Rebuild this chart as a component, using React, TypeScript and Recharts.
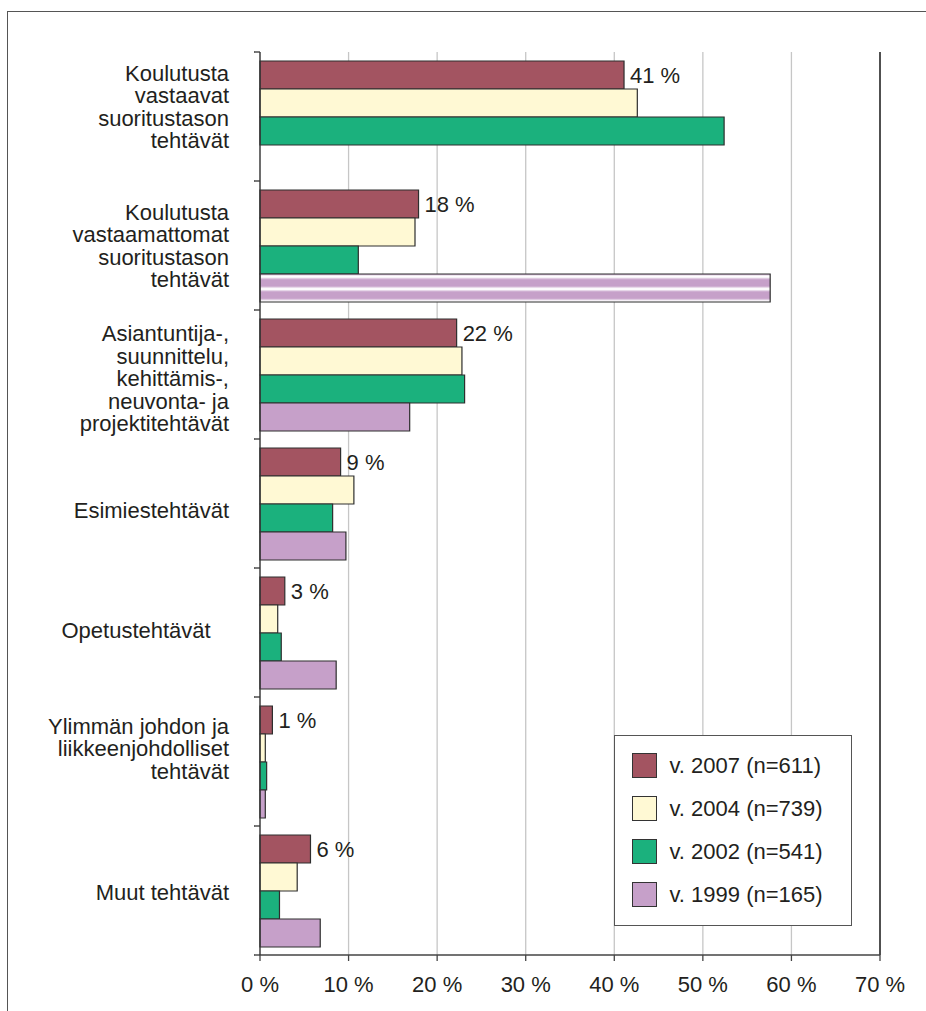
import React from 'react';
import {
  BarChart,
  Bar,
  XAxis,
  YAxis,
  CartesianGrid,
  ReferenceLine,
  LabelList,
  Legend,
  Cell,
} from 'recharts';

// ---- data ----
const categories: string[] = [
  'Koulutusta\nvastaavat\nsuoritustason\ntehtävät',
  'Koulutusta\nvastaamattomat\nsuoritustason\ntehtävät',
  'Asiantuntija-,\nsuunnittelu,\nkehittämis-,\nneuvonta- ja\nprojektitehtävät',
  'Esimiestehtävät',
  'Opetustehtävät\u00a0\u00a0\u00a0',
  'Ylimmän johdon ja\nliikkeenjohdolliset\ntehtävät',
  'Muut tehtävät',
];
const values2007: (number | null)[] = [41.1, 17.9, 22.2, 9.1, 2.8, 1.4, 5.7];
const values2004: (number | null)[] = [42.6, 17.5, 22.8, 10.6, 2.0, 0.6, 4.2];
const values2002: (number | null)[] = [52.4, 11.1, 23.1, 8.2, 2.4, 0.75, 2.2];
const values1999: (number | null)[] = [null, 57.6, 16.9, 9.7, 8.6, 0.6, 6.8];
const seriesNames: string[] = ['v. 2007 (n=611)', 'v. 2004 (n=739)', 'v. 2002 (n=541)', 'v. 1999 (n=165)'];
const xTicks: number[] = [0, 10, 20, 30, 40, 50, 60, 70];
// category where the 1999 bar is drawn hatched (combined category in 1999)
const STRIPED_1999_INDEX = 1;

// ---- style / layout ----
const COLORS = ['#a35461', '#fff9d4', '#1bb17d', '#c6a0c9'];
const FONT = '"Liberation Sans", Arial, Helvetica, sans-serif';
const TEXT = '#231f20';
const CHART_W = 926;
const CHART_H = 1011;
const MARGIN = { top: 52, right: 46, bottom: 6, left: 0 };
const XAXIS_H = 50;
const YAXIS_W = 260;
const TICK_SIZE = 6;
const TICK_MARGIN = 25;
const LINE_H = 22.5;
const CAP_HALF = 7.9;
const LABEL_NUDGE = [-10, 0, 4, 7, -2, -13, 2];
const PLOT_H = CHART_H - MARGIN.top - MARGIN.bottom - XAXIS_H;

const data = categories.map((name, i) => ({
  name,
  v2007: values2007[i],
  v2004: values2004[i],
  v2002: values2002[i],
  v1999: values1999[i],
}));

const CategoryTick = (props: any) => {
  const { x, y, payload, index, visibleTicksCount, height } = props;
  const lines = String(payload.value).split('\n');
  const n = lines.length;
  const count = visibleTicksCount || categories.length;
  const band = typeof height === 'number' && height > 0 ? height / count : PLOT_H / categories.length;
  const axisX = x + TICK_SIZE + TICK_MARGIN;
  const nudge = LABEL_NUDGE[index] ?? 0;
  return (
    <g>
      <line x1={axisX - TICK_SIZE} x2={axisX} y1={y - band / 2} y2={y - band / 2} stroke="#333" strokeWidth={1.3} />
      {index === count - 1 && (
        <line x1={axisX - TICK_SIZE} x2={axisX} y1={y + band / 2} y2={y + band / 2} stroke="#333" strokeWidth={1.3} />
      )}
      <text textAnchor="end" fontSize={22} fill={TEXT} fontFamily={FONT}>
        {lines.map((l, i) => (
          <tspan key={i} x={x} y={y + nudge + (i - (n - 1) / 2) * LINE_H + CAP_HALF}>
            {l}
          </tspan>
        ))}
      </text>
    </g>
  );
};

const LegendBox = (props: any) => {
  const payload = ([...(props.payload || [])] as any[]).sort(
    (a, b) => seriesNames.indexOf(a.value) - seriesNames.indexOf(b.value)
  );
  return (
    <div
      style={{
        boxSizing: 'border-box',
        width: '100%',
        height: '100%',
        border: '1.5px solid #555',
        background: '#fff',
        paddingTop: 8,
        fontFamily: FONT,
      }}
    >
      {payload.map((e: any) => (
        <div key={e.value} style={{ height: 43, display: 'flex', alignItems: 'center' }}>
          <span
            style={{
              display: 'inline-block',
              width: 25,
              height: 25,
              boxSizing: 'border-box',
              background: e.color,
              border: '1.5px solid #333',
              marginLeft: 16.5,
              flex: 'none',
            }}
          />
          <span style={{ marginLeft: 13, fontSize: 22, color: TEXT, lineHeight: '22px', whiteSpace: 'nowrap' }}>
            {e.value}
          </span>
        </div>
      ))}
    </div>
  );
};

export default function App() {
  return (
    <div
      style={{
        position: 'absolute',
        left: 0,
        top: 0,
        width: CHART_W,
        height: CHART_H,
        overflow: 'hidden',
        background: '#fff',
        fontFamily: FONT,
      }}
    >
      <svg width={0} height={0} style={{ position: 'absolute' }}>
        <defs>
          <pattern
            id="stripes1999"
            patternUnits="objectBoundingBox"
            patternContentUnits="userSpaceOnUse"
            x="0"
            y="0"
            width="1"
            height="0.44"
          >
            <rect x={0} y={0} width={2000} height={20} fill={COLORS[3]} />
            <rect x={0} y={0.5} width={2000} height={4.5} fill="#e4d2e6" />
            <rect x={0} y={1.5} width={2000} height={2.2} fill="#ffffff" />
          </pattern>
        </defs>
      </svg>
      <div
        style={{
          position: 'absolute',
          left: 6.5,
          top: 11,
          width: 1200,
          height: 1200,
          border: '1.5px solid #555',
        }}
      />
      <div style={{ position: 'absolute', left: 0, top: 0 }}>
        <BarChart
          width={CHART_W}
          height={CHART_H}
          data={data}
          layout="vertical"
          margin={MARGIN}
          barSize={28}
          barGap={0}
        >
          <CartesianGrid horizontal={false} stroke="#c6c6c6" strokeWidth={1.3} />
          <XAxis
            xAxisId="top"
            orientation="top"
            type="number"
            domain={[0, 70]}
            height={0}
            tick={false}
            tickLine={false}
            axisLine={{ stroke: '#666', strokeWidth: 2 }}
          />
          <XAxis
            type="number"
            domain={[0, 70]}
            ticks={xTicks}
            interval={0}
            height={XAXIS_H}
            tickFormatter={(v: number) => `${v} %`}
            tick={{ fontSize: 22, fill: TEXT, fontFamily: FONT }}
            tickSize={6}
            tickMargin={15}
            axisLine={{ stroke: '#444', strokeWidth: 1.3 }}
            tickLine={{ stroke: '#444', strokeWidth: 1.3 }}
          />
          <YAxis
            type="category"
            dataKey="name"
            width={YAXIS_W}
            interval={0}
            tickSize={TICK_SIZE}
            tickMargin={TICK_MARGIN}
            tickLine={false}
            axisLine={{ stroke: '#333', strokeWidth: 1.3 }}
            tick={(p: any) => <CategoryTick {...p} />}
          />
          <ReferenceLine x={70} stroke="#222" strokeWidth={1.5} />
          <Bar dataKey="v2007" name={seriesNames[0]} fill={COLORS[0]} stroke="#2e2e2e" strokeWidth={1.2} isAnimationActive={false}>
            <LabelList
              dataKey="v2007"
              position="right"
              offset={6}
              formatter={(v: any) => `${Math.round(Number(v))} %`}
              fontSize={22}
              fill={TEXT}
              fontFamily={FONT}
            />
          </Bar>
          <Bar dataKey="v2004" name={seriesNames[1]} fill={COLORS[1]} stroke="#2e2e2e" strokeWidth={1.2} isAnimationActive={false} />
          <Bar dataKey="v2002" name={seriesNames[2]} fill={COLORS[2]} stroke="#2e2e2e" strokeWidth={1.2} isAnimationActive={false} />
          <Bar dataKey="v1999" name={seriesNames[3]} fill={COLORS[3]} stroke="#2e2e2e" strokeWidth={1.2} isAnimationActive={false}>
            {data.map((_, i) => (
              <Cell key={i} fill={i === STRIPED_1999_INDEX ? 'url(#stripes1999)' : COLORS[3]} />
            ))}
          </Bar>
          <Legend
            layout="vertical"
            align="center"
            verticalAlign="middle"
            width={238}
            height={191}
            wrapperStyle={{ position: 'absolute', left: 614, top: 735, width: 238, height: 191 }}
            content={(p: any) => <LegendBox {...p} />}
          />
        </BarChart>
      </div>
    </div>
  );
}
